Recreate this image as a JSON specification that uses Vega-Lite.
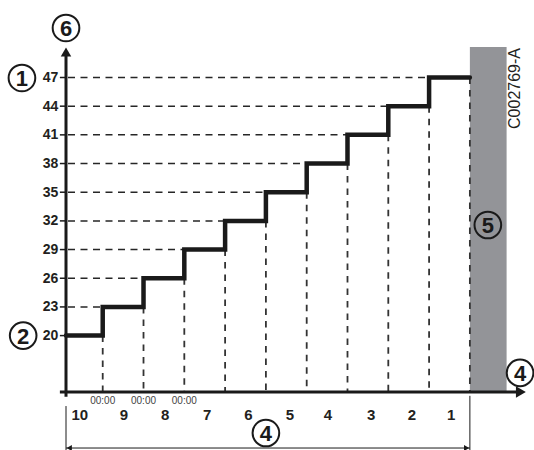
{
  "$schema": "https://vega.github.io/schema/vega-lite/v6.json",
  "width": 461,
  "height": 347,
  "autosize": {"type": "none"},
  "padding": {"left": 66, "top": 45, "right": 7, "bottom": 58},
  "background": "white",
  "config": {"view": {"stroke": null}, "font": "Liberation Sans"},
  "layer": [
    {
      "data": {"values": [{"x1": 10, "x2": 10.9, "b": 14.1, "t": 50.2}]},
      "mark": {"type": "rect", "color": "#939498"},
      "encoding": {
        "x": {"field": "x1", "type": "quantitative", "scale": {"domain": [0.1, 11.4], "nice": false, "zero": false}, "axis": null},
        "x2": {"field": "x2"},
        "y": {"field": "b", "type": "quantitative", "scale": {"domain": [14.1, 50.4], "nice": false, "zero": false}, "axis": null},
        "y2": {"field": "t"}
      }
    },
    {
      "data": {"values": [
        {"x1": 0.1, "x2": 1, "t": 23}, {"x1": 0.1, "x2": 2, "t": 26}, {"x1": 0.1, "x2": 3, "t": 29},
        {"x1": 0.1, "x2": 4, "t": 32}, {"x1": 0.1, "x2": 5, "t": 35}, {"x1": 0.1, "x2": 6, "t": 38},
        {"x1": 0.1, "x2": 7, "t": 41}, {"x1": 0.1, "x2": 8, "t": 44}, {"x1": 0.1, "x2": 9, "t": 47}
      ]},
      "mark": {"type": "rule", "strokeDash": [7, 5.5], "strokeDashOffset": -2, "strokeWidth": 1.5, "color": "#262626"},
      "encoding": {
        "x": {"field": "x1", "type": "quantitative", "axis": null},
        "x2": {"field": "x2"},
        "y": {"field": "t", "type": "quantitative", "axis": null}
      }
    },
    {
      "data": {"values": [
        {"d": 1, "t": 20, "b": 14.1}, {"d": 2, "t": 23, "b": 14.1}, {"d": 3, "t": 26, "b": 14.1}, {"d": 4, "t": 29, "b": 14.1},
        {"d": 5, "t": 32, "b": 14.1}, {"d": 6, "t": 35, "b": 14.1}, {"d": 7, "t": 38, "b": 14.1}, {"d": 8, "t": 41, "b": 14.1},
        {"d": 9, "t": 44, "b": 14.1}, {"d": 10, "t": 47, "b": 14.1}
      ]},
      "mark": {"type": "rule", "strokeDash": [6.5, 6], "strokeWidth": 1.8, "color": "#333333"},
      "encoding": {
        "x": {"field": "d", "type": "quantitative", "axis": null},
        "y": {"field": "t", "type": "quantitative", "axis": null},
        "y2": {"field": "b"}
      }
    },
    {
      "data": {"values": [
        {"d": 0.1, "t": 20}, {"d": 1, "t": 23}, {"d": 2, "t": 26}, {"d": 3, "t": 29}, {"d": 4, "t": 32},
        {"d": 5, "t": 35}, {"d": 6, "t": 38}, {"d": 7, "t": 41}, {"d": 8, "t": 44}, {"d": 9, "t": 47}, {"d": 10, "t": 47}
      ]},
      "mark": {"type": "line", "interpolate": "step-after", "strokeWidth": 4.5, "color": "#1a1a1a", "strokeJoin": "miter", "strokeCap": "round"},
      "encoding": {
        "x": {"field": "d", "type": "quantitative", "axis": null},
        "y": {"field": "t", "type": "quantitative", "axis": null}
      }
    },
    {
      "data": {"values": [
        {"x1": -0.05, "x2": 11.15, "y1": 14.1, "y2": 14.1},
        {"x1": 0.1, "x2": 0.1, "y1": 13.6, "y2": 49.4}
      ]},
      "mark": {"type": "rule", "strokeWidth": 3, "color": "#1a1a1a"},
      "encoding": {
        "x": {"field": "x1", "type": "quantitative", "axis": null},
        "x2": {"field": "x2"},
        "y": {"field": "y1", "type": "quantitative", "axis": null},
        "y2": {"field": "y2"}
      }
    },
    {
      "data": {"values": [
        {"x1": -0.05, "x2": 0.1, "t": 20}, {"x1": -0.05, "x2": 0.1, "t": 23}, {"x1": -0.05, "x2": 0.1, "t": 26},
        {"x1": -0.05, "x2": 0.1, "t": 29}, {"x1": -0.05, "x2": 0.1, "t": 32}, {"x1": -0.05, "x2": 0.1, "t": 35},
        {"x1": -0.05, "x2": 0.1, "t": 38}, {"x1": -0.05, "x2": 0.1, "t": 41}, {"x1": -0.05, "x2": 0.1, "t": 44},
        {"x1": -0.05, "x2": 0.1, "t": 47}
      ]},
      "mark": {"type": "rule", "strokeWidth": 1.5, "color": "#1a1a1a"},
      "encoding": {
        "x": {"field": "x1", "type": "quantitative", "axis": null},
        "x2": {"field": "x2"},
        "y": {"field": "t", "type": "quantitative", "axis": null}
      }
    },
    {
      "data": {"values": [
        {"xv": -0.09, "t": 20}, {"xv": -0.09, "t": 23}, {"xv": -0.09, "t": 26}, {"xv": -0.09, "t": 29},
        {"xv": -0.09, "t": 32}, {"xv": -0.09, "t": 35}, {"xv": -0.09, "t": 38}, {"xv": -0.09, "t": 41},
        {"xv": -0.09, "t": 44}, {"xv": -0.09, "t": 47}
      ]},
      "mark": {"type": "text", "fontWeight": "bold", "fontSize": 14, "color": "#231f20", "baseline": "middle", "align": "right", "dy": 0.5},
      "encoding": {"x": {"field": "xv", "type": "quantitative", "axis": null}, "y": {"field": "t", "type": "quantitative", "axis": null}, "text": {"field": "t"}}
    },
    {
      "data": {"values": [{"xv": 0.1, "yv": 49.67}]},
      "mark": {"type": "point", "shape": "triangle-up", "size": 110, "filled": true, "opacity": 1, "color": "#1a1a1a"},
      "encoding": {"x": {"field": "xv", "type": "quantitative", "axis": null}, "y": {"field": "yv", "type": "quantitative", "axis": null}}
    },
    {
      "data": {"values": [{"xv": 11.25, "yv": 14.1}]},
      "mark": {"type": "point", "shape": "triangle-right", "size": 130, "filled": true, "opacity": 1, "color": "#1a1a1a"},
      "encoding": {"x": {"field": "xv", "type": "quantitative", "axis": null}, "y": {"field": "yv", "type": "quantitative", "axis": null}}
    },
    {
      "data": {"values": [
        {"d": 0.44, "yv": 11.7, "lab": "10"}, {"d": 1.52, "yv": 11.7, "lab": "9"}, {"d": 2.53, "yv": 11.7, "lab": "8"},
        {"d": 3.56, "yv": 11.7, "lab": "7"}, {"d": 4.57, "yv": 11.7, "lab": "6"}, {"d": 5.59, "yv": 11.7, "lab": "5"},
        {"d": 6.52, "yv": 11.7, "lab": "4"}, {"d": 7.58, "yv": 11.7, "lab": "3"}, {"d": 8.58, "yv": 11.7, "lab": "2"},
        {"d": 9.54, "yv": 11.7, "lab": "1"}
      ]},
      "mark": {"type": "text", "fontWeight": "bold", "fontSize": 15, "color": "#231f20", "baseline": "middle", "align": "center"},
      "encoding": {"x": {"field": "d", "type": "quantitative", "axis": null}, "y": {"field": "yv", "type": "quantitative", "axis": null}, "text": {"field": "lab"}}
    },
    {
      "data": {"values": [{"d": 1, "yv": 13.15, "lab": "00:00"}, {"d": 2, "yv": 13.15, "lab": "00:00"}, {"d": 3, "yv": 13.15, "lab": "00:00"}]},
      "mark": {"type": "text", "fontSize": 10, "color": "#444444", "baseline": "middle", "align": "center"},
      "encoding": {"x": {"field": "d", "type": "quantitative", "axis": null}, "y": {"field": "yv", "type": "quantitative", "axis": null}, "text": {"field": "lab"}}
    },
    {
      "data": {"values": [
        {"cx": -0.98, "cy": 46.95, "n": "1"}, {"cx": -0.95, "cy": 20, "n": "2"}, {"cx": 0.1, "cy": 52.18, "n": "6"},
        {"cx": 11.23, "cy": 16.1, "n": "4"}, {"cx": 5.0, "cy": 9.81, "n": "4"}, {"cx": 10.44, "cy": 31.57, "n": "5"}
      ]},
      "mark": {"type": "point", "shape": "circle", "size": 710, "filled": false, "opacity": 1, "strokeWidth": 2, "color": "#1a1a1a"},
      "encoding": {"x": {"field": "cx", "type": "quantitative", "axis": null}, "y": {"field": "cy", "type": "quantitative", "axis": null}}
    },
    {
      "data": {"values": [
        {"cx": -0.98, "cy": 46.95, "n": "1"}, {"cx": -0.95, "cy": 20, "n": "2"}, {"cx": 0.1, "cy": 52.18, "n": "6"},
        {"cx": 11.23, "cy": 16.1, "n": "4"}, {"cx": 5.0, "cy": 9.81, "n": "4"}, {"cx": 10.44, "cy": 31.57, "n": "5"}
      ]},
      "mark": {"type": "text", "fontWeight": "bold", "fontSize": 22, "color": "#1a1a1a", "baseline": "middle", "align": "center", "dy": 1},
      "encoding": {"x": {"field": "cx", "type": "quantitative", "axis": null}, "y": {"field": "cy", "type": "quantitative", "axis": null}, "text": {"field": "n"}}
    },
    {
      "data": {"values": [
        {"x1": 0.1, "x2": 0.1, "y1": 12.63, "y2": 8.0},
        {"x1": 10, "x2": 10, "y1": 13.7, "y2": 8.0},
        {"x1": 0.1, "x2": 10, "y1": 8.24, "y2": 8.24}
      ]},
      "mark": {"type": "rule", "strokeWidth": 1, "color": "#1a1a1a"},
      "encoding": {
        "x": {"field": "x1", "type": "quantitative", "axis": null},
        "x2": {"field": "x2"},
        "y": {"field": "y1", "type": "quantitative", "axis": null},
        "y2": {"field": "y2"}
      }
    },
    {
      "data": {"values": [{"xv": 0.18, "yv": 8.24}]},
      "mark": {"type": "point", "shape": "triangle-left", "size": 36, "filled": true, "opacity": 1, "color": "#1a1a1a"},
      "encoding": {"x": {"field": "xv", "type": "quantitative", "axis": null}, "y": {"field": "yv", "type": "quantitative", "axis": null}}
    },
    {
      "data": {"values": [{"xv": 9.92, "yv": 8.24}]},
      "mark": {"type": "point", "shape": "triangle-right", "size": 36, "filled": true, "opacity": 1, "color": "#1a1a1a"},
      "encoding": {"x": {"field": "xv", "type": "quantitative", "axis": null}, "y": {"field": "yv", "type": "quantitative", "axis": null}}
    },
    {
      "data": {"values": [{"xv": 11.1, "yv": 45.85, "lab": "C002769-A"}]},
      "mark": {"type": "text", "angle": 270, "fontSize": 16, "color": "#231f20", "baseline": "middle", "align": "center"},
      "encoding": {"x": {"field": "xv", "type": "quantitative", "axis": null}, "y": {"field": "yv", "type": "quantitative", "axis": null}, "text": {"field": "lab"}}
    }
  ]
}
